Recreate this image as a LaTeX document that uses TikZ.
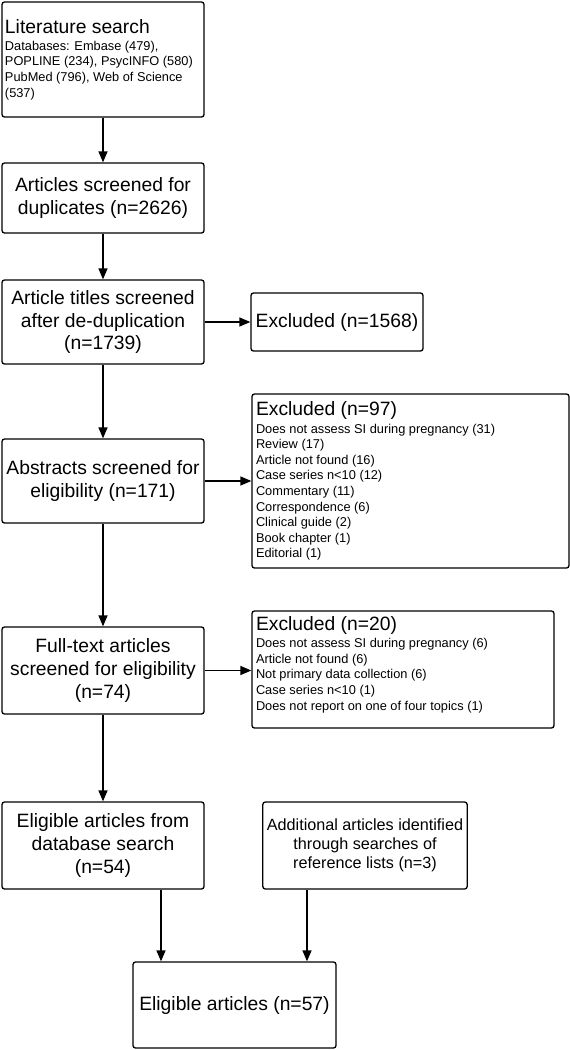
\documentclass[tikz,border=0pt]{standalone}
\usepackage{fontspec}
\setmainfont{Liberation Sans}
\usetikzlibrary{arrows.meta}
\newcommand\boxfont{\fontsize{19.3pt}{22.8pt}\selectfont}
\newcommand\listfont{\fontsize{12.8pt}{15.6pt}\selectfont}
\newcommand\notefont{\fontsize{16.2pt}{19.2pt}\selectfont}

\begin{document}
\begin{tikzpicture}[x=1pt, y=-1pt,
        box/.style={draw, line width=1.3pt, rounded corners=2.5pt, align=center,
            inner sep=4pt, minimum width=202pt, font=\boxfont},
        listbox/.style={box, align=flush left},
        arr/.style={-{Triangle[length=11pt,width=9pt]}, line width=1.3pt}]

            \useasboundingbox (0,0) rectangle (570,1050);

            %%left column
            \node[listbox, text width=196pt, inner xsep=3pt, minimum height=115pt] (search) at(103, 59.5){Literature search\par\vspace{1.5pt}\listfont
                Databases: Embase (479),\\ POPLINE (234), PsycINFO (580)\\ PubMed (796), Web of Science\\ (537)\par};
            \node[box, minimum height=70pt] (dup) at(103, 198){Articles screened for\\ duplicates (n=2626)};
            \node[box, minimum height=84pt] (titles) at(103, 322){Article titles screened\\ after de-duplication\\ (n=1739)};
            \node[box, minimum height=84pt] (abstr) at(103, 481){Abstracts screened for\\ eligibility (n=171)};
            \node[box, minimum height=87pt] (full) at(103, 670.5){Full-text articles\\ screened for eligibility\\ (n=74)};
            \node[box, minimum height=87pt] (dbase) at(103, 845.5){Eligible articles from\\ database search\\ (n=54)};

            %%excluded
            \node[box, minimum width=172pt, minimum height=58pt] (excl1) at(337, 322){Excluded (n=1568)};
            \node[listbox, text width=309pt, minimum height=174pt] (excl2) at(410.5, 481){Excluded (n=97)\par\vspace{2pt}\listfont
                Does not assess SI during pregnancy (31)\\ Review (17)\\ Article not found (16)\\ Case series n<10 (12)\\
                Commentary (11)\\ Correspondence (6)\\ Clinical guide (2)\\ Book chapter (1)\\ Editorial (1)\par};
            \node[listbox, text width=294pt, minimum height=117pt] (excl3) at(403, 669.5){Excluded (n=20)\par\vspace{2pt}\listfont
                Does not assess SI during pregnancy (6)\\ Article not found (6)\\ Not primary data collection (6)\\
                Case series n<10 (1)\\ Does not report on one of four topics (1)\par\vspace{10pt}\hrule height 0pt};

            %%bottom
            \node[box, minimum width=204pt, minimum height=87pt, font=\notefont] (refs) at(365, 845.5){Additional articles identified\\ through searches of\\ reference lists (n=3)};
            \node[box, minimum width=203pt, minimum height=86pt] (final) at(234.5, 1005){Eligible articles (n=57)};

            %%arrows
            \draw[arr] (search) -- (dup);
            \draw[arr] (dup) -- (titles);
            \draw[arr] (titles) -- (abstr);
            \draw[arr] (abstr) -- (full);
            \draw[arr] (full) -- (dbase);
            \draw[arr] (titles) -- (excl1);
            \draw[arr] (abstr.east) -- (excl2.west);
            \draw[arr] (full.east) -- (excl3.west |- full.east);
            \draw[arr] ([xshift=58pt]dbase.south) -- ([xshift=58pt]dbase.south |- final.north);
            \draw[arr] ([xshift=-58pt]refs.south) -- ([xshift=-58pt]refs.south |- final.north);
        \end{tikzpicture}
\end{document}
